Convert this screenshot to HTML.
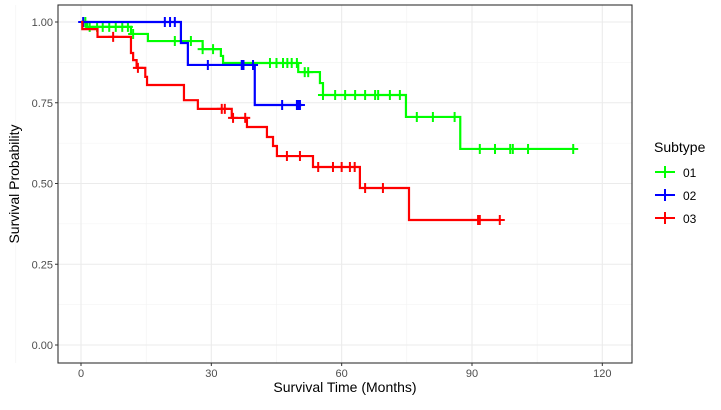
<!DOCTYPE html>
<html><head><meta charset="utf-8"><style>
body{margin:0;background:#fff;font-family:"Liberation Sans",Arial,sans-serif}
</style></head><body>
<svg id="chart" width="721" height="405" xmlns="http://www.w3.org/2000/svg" font-family="Liberation Sans, Arial, sans-serif">
<rect width="721" height="405" fill="#fff"/>
<g id="grid"></g><g id="curves"></g><g id="axes"></g>
</svg>
<script>
const xTicks=[0,30,60,90,120];
const yTicks=[0,0.25,0.5,0.75,1];
const yTickLabels=["0.00","0.25","0.50","0.75","1.00"];
const groups=["01","02","03"];
const colors=["#00FF00","#0000FF","#FF0000"];
// step change points [time, survival]
const steps01=[[0,1],[1.4,0.985],[11.5,0.963],[15.4,0.941],[28,0.916],[32.2,0.895],[32.7,0.873],[50,0.845],[55,0.811],[55.7,0.774],[74.8,0.706],[87.3,0.607]];
const end01=113.7;
const cens01=[1,2,3.7,5,6.5,8,9.5,10.8,12,21.6,25.3,28,30.4,43.5,45,46.5,47.5,48.5,49.7,51.5,52.3,55.7,58.5,60.8,63.1,65.4,67.7,68.4,71.1,73.4,77.3,81,86,91.8,95.3,98.8,99.4,102.9,113.3];
const steps02=[[0,1],[23,0.935],[24.6,0.867],[40,0.743]];
const end02=50.9;
const cens02=[0.5,19.3,20.5,21.6,29.2,37,37.4,39.6,46.3,49.7,50,50.4];
const steps03=[[0,1],[0.3,0.978],[3.8,0.954],[11.5,0.904],[12,0.882],[12.8,0.858],[14.8,0.83],[15.2,0.805],[23.7,0.758],[26.9,0.731],[34.7,0.703],[38.2,0.675],[42.8,0.644],[44.2,0.616],[45.1,0.585],[53.4,0.551],[64.2,0.486],[75.5,0.387]];
const end03=96.6;
const cens03=[7.4,13.1,32.4,33.1,35,37.8,47.4,50.4,54.6,58,60,61.9,63,65.4,69.5,91.4,91.8,96.4];

const NS="http://www.w3.org/2000/svg";
const X=t=>81+t*130.33/30;
const Y=s=>345-s*323;
function mk(tag,attrs,parent){const e=document.createElementNS(NS,tag);for(const k in attrs)e.setAttribute(k,attrs[k]);parent.appendChild(e);return e;}
const grid=document.getElementById('grid'),curves=document.getElementById('curves'),axes=document.getElementById('axes');
const PL=58,PR=632,PT=5,PB=363;
const bg=mk('rect',{x:PL,y:PT,width:PR-PL,height:PB-PT,fill:'#fff'},grid);

for(let i=0;i<xTicks.length-1;i++){const m=(xTicks[i]+xTicks[i+1])/2;mk('line',{x1:X(m),x2:X(m),y1:PT,y2:PB,stroke:'#f2f2f2','stroke-width':0.6},grid);}
mk('line',{x1:X(-15),x2:X(-15),y1:PT,y2:PB,stroke:'#f2f2f2','stroke-width':0.6},grid);
for(let i=0;i<yTicks.length-1;i++){const m=(yTicks[i]+yTicks[i+1])/2;mk('line',{x1:PL,x2:PR,y1:Y(m),y2:Y(m),stroke:'#f2f2f2','stroke-width':0.6},grid);}
xTicks.forEach(t=>{const l=mk('line',{x1:X(t),x2:X(t),y1:PT,y2:PB,stroke:'#ebebeb','stroke-width':1.1},grid);});
yTicks.forEach(t=>{const l=mk('line',{x1:PL,x2:PR,y1:Y(t),y2:Y(t),stroke:'#ebebeb','stroke-width':1.1},grid);});
const stepsAll=[steps01,steps02,steps03],ends=[end01,end02,end03],censAll=[cens01,cens02,cens03];
function survAt(st,t){let s=1;st.forEach(p=>{if(p[0]<=t)s=p[1];});return s;}
stepsAll.forEach((st,g)=>{
  let d='M'+X(st[0][0])+','+Y(st[0][1]);
  for(let i=1;i<st.length;i++){d+=' H'+X(st[i][0])+' V'+Y(st[i][1]);}
  d+=' H'+X(ends[g]);
  const p=mk('path',{d:d,fill:'none',stroke:colors[g],'stroke-width':2.2},curves);
  
  
  censAll[g].forEach(t=>{const x=X(t),y=Y(survAt(st,t));
    const c=mk('path',{d:`M${x-5},${y}H${x+5}M${x},${y-5}V${y+5}`,stroke:colors[g],'stroke-width':2},curves);
    
    });
});
const border=mk('rect',{x:PL,y:PT,width:PR-PL,height:PB-PT,fill:'none',stroke:'#333','stroke-width':1.1},axes);

xTicks.forEach(t=>{mk('line',{x1:X(t),x2:X(t),y1:PB,y2:PB+3,stroke:'#333'},axes);
  const tx=mk('text',{x:X(t),y:PB+14,'text-anchor':'middle','font-size':11,fill:'#4d4d4d'},axes);tx.textContent=t;
  });
yTicks.forEach((t,i)=>{mk('line',{x1:PL-3,x2:PL,y1:Y(t),y2:Y(t),stroke:'#333'},axes);
  const tx=mk('text',{x:PL-5,y:Y(t)+4,'text-anchor':'end','font-size':11,fill:'#4d4d4d'},axes);tx.textContent=yTickLabels[i];
  });
const xt=mk('text',{x:(PL+PR)/2,y:392,'text-anchor':'middle','font-size':14,fill:'#000'},axes);xt.textContent='Survival Time (Months)';

const yt=mk('text',{x:0,y:0,'text-anchor':'middle','font-size':14,fill:'#000',transform:`translate(19,${(PT+PB)/2}) rotate(-90)`},axes);yt.textContent='Survival Probability';

const lt=mk('text',{x:654,y:152,'font-size':14,fill:'#000'},axes);lt.textContent='Subtype';

groups.forEach((g,i)=>{const y=172+i*23;
  const s=mk('path',{d:`M655,${y}H675M665,${y-6}V${y+6}`,stroke:colors[i],'stroke-width':2},axes);
  
  const t=mk('text',{x:683,y:y+5,'font-size':12,fill:'#000'},axes);t.textContent=g;
  });
</script>
</body></html>
